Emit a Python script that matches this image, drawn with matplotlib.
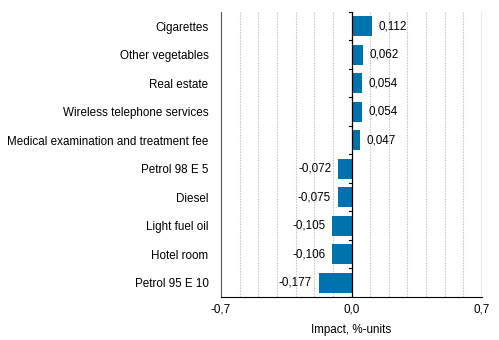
import matplotlib.pyplot as plt
import numpy as np

# データ
categories = ['Cigarettes', 'Other vegetables', 'Real estate', 'Wireless telephone services',
              'Medical examination and treatment fee', 'Petrol 98 E 5', 'Diesel',
              'Light fuel oil', 'Hotel room', 'Petrol 95 E 10']
values = [0.112, 0.062, 0.054, 0.054, 0.047, -0.072, -0.075, -0.105, -0.106, -0.177]
xticks = [-0.7, 0.0, 0.7]

plt.rcParams['font.family'] = ['Liberation Sans', 'DejaVu Sans']
FS = 8.4

fig = plt.figure(figsize=(4.99, 3.40), dpi=100)
ax = fig.add_axes([0.443, 0.127, 0.523, 0.838])

y = np.arange(len(categories))
ax.barh(y, values, height=0.7, color='#0072ae', zorder=3)
ax.set_ylim(len(categories) - 0.5, -0.5)
ax.set_xlim(-0.7, 0.7)

# グリッド（0.1刻みの点線）
for gx in np.arange(-0.6, 0.65, 0.1):
    if abs(gx) > 1e-9:
        ax.axvline(gx, color='#c8c8c8', linestyle=(0, (1.5, 1)), linewidth=0.8, zorder=1)
ax.axvline(0.7, color='#999999', linewidth=1.0, zorder=1)
ax.axvline(0, color='black', linewidth=0.9, zorder=4)

# ゼロ線上の目盛り
for b in np.arange(-0.5, len(categories), 1.0):
    ax.plot([-0.011, 0.0], [b, b], color='black', linewidth=0.8, zorder=4)

ax.set_yticks(y)
ax.set_yticklabels(categories, fontsize=FS)
ax.tick_params(axis='y', length=0, pad=9)
ax.set_xticks(xticks)
ax.set_xticklabels([f'{t:.1f}'.replace('.', ',') for t in xticks], fontsize=FS)
ax.tick_params(axis='x', length=0, pad=5)
ax.set_xlabel('Impact, %-units', fontsize=FS, labelpad=6)

for s in ['top', 'right']:
    ax.spines[s].set_visible(False)
ax.spines['left'].set_color('#555555')
ax.spines['bottom'].set_color('black')

# 値ラベル
for i, v in enumerate(values):
    txt = f'{v:.3f}'.replace('.', ',')
    if v >= 0:
        ax.text(v + 0.035, i, txt, va='center', ha='left', fontsize=FS)
    else:
        ax.text(v - 0.035, i, txt, va='center', ha='right', fontsize=FS)

plt.savefig('out.png', dpi=100)
